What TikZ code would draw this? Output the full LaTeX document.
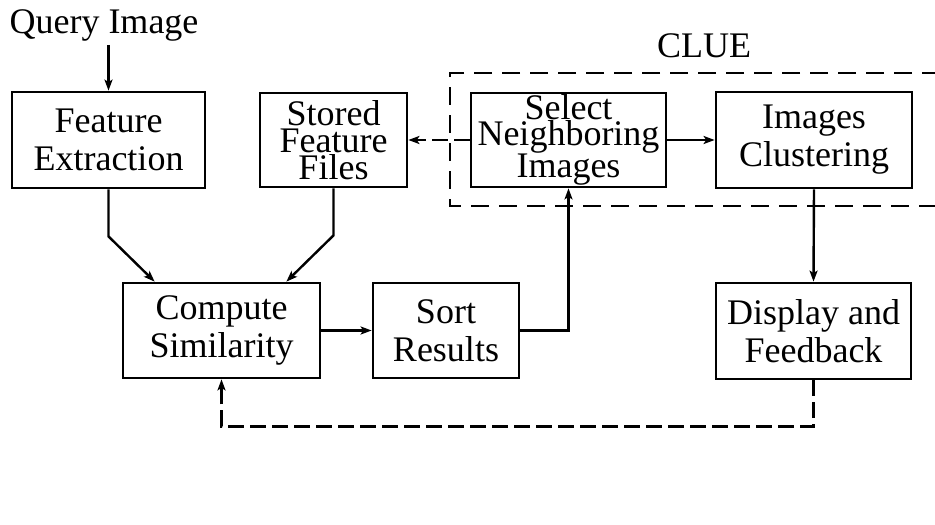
\documentclass[tikz,border=0pt]{standalone}
\usepackage{fontspec}
\setmainfont{Liberation Serif}
\usetikzlibrary{arrows.meta}
\begin{document}
\begin{tikzpicture}[x=1pt,y=-1pt,
  box/.style={draw,line width=2.8pt,inner sep=0pt,align=center,
    font=\fontsize{36}{38}\selectfont},
  tightbox/.style={box,font=\fontsize{36}{27}\selectfont},
  tighterbox/.style={box,font=\fontsize{36}{25.5}\selectfont},
  lbl/.style={inner sep=0pt,font=\fontsize{36}{38}\selectfont},
  arr/.style={line width=2.4pt,-{Stealth[length=11pt,width=8pt,inset=2.5pt]}},
  darr/.style={arr,dash pattern=on 16pt off 6pt},
  cluebox/.style={line width=2.6pt,dash pattern=on 18pt off 10pt}]
\useasboundingbox (0,0) rectangle (935,525);
% nodes
\node[lbl,anchor=base] (qi) at (104,33) {Query Image};
\node[lbl,anchor=base] (clue) at (704,57) {CLUE};
\node[box,minimum width=193pt,minimum height=96pt] (fe) at (108.5,140) {Feature\\Extraction};
\node[tightbox,minimum width=147pt,minimum height=94pt] (sf) at (333.5,140) {Stored\\Feature\\Files};
\node[tighterbox,minimum width=195pt,minimum height=94pt] (sn) at (568.5,140) {Select\\Neighboring\\Images};
\node[box,minimum width=196pt,minimum height=96pt] (ic) at (814,140) {Images\\Clustering};
\node[box,minimum width=197pt,minimum height=95pt] (cs) at (221.5,330.5) {Compute\\Similarity};
\node[box,minimum width=146pt,minimum height=95pt] (sr) at (446,330.5) {Sort\\Results};
\node[box,minimum width=195pt,minimum height=96pt] (df) at (813.5,331) {Display and\\Feedback};
% CLUE dashed region (continues past right edge)
\draw[cluebox] (940,73) -- (450,73) -- (450,206) -- (940,206);
% connectors
\draw[arr] (fe.north |- qi.south) ++(0,4) -- (fe.north);
\draw[arr] (fe.south) -- ++(0,47) -- ([xshift=33pt]cs.north west);
\draw[arr] (sf.south) -- ++(0,47) -- ([xshift=-35pt]cs.north east);
\draw[arr] (cs.east) -- (sr.west);
\draw[arr] (sr.east) -| (sn.south);
\draw[darr] (sn.west) -- (sf.east);
\draw[arr] (sn.east) -- (ic.west);
\draw[arr] (ic.south) -- (df.north);
\draw[darr] (df.south) -- ++(0,46) -| (cs.south);
\end{tikzpicture}
\end{document}
